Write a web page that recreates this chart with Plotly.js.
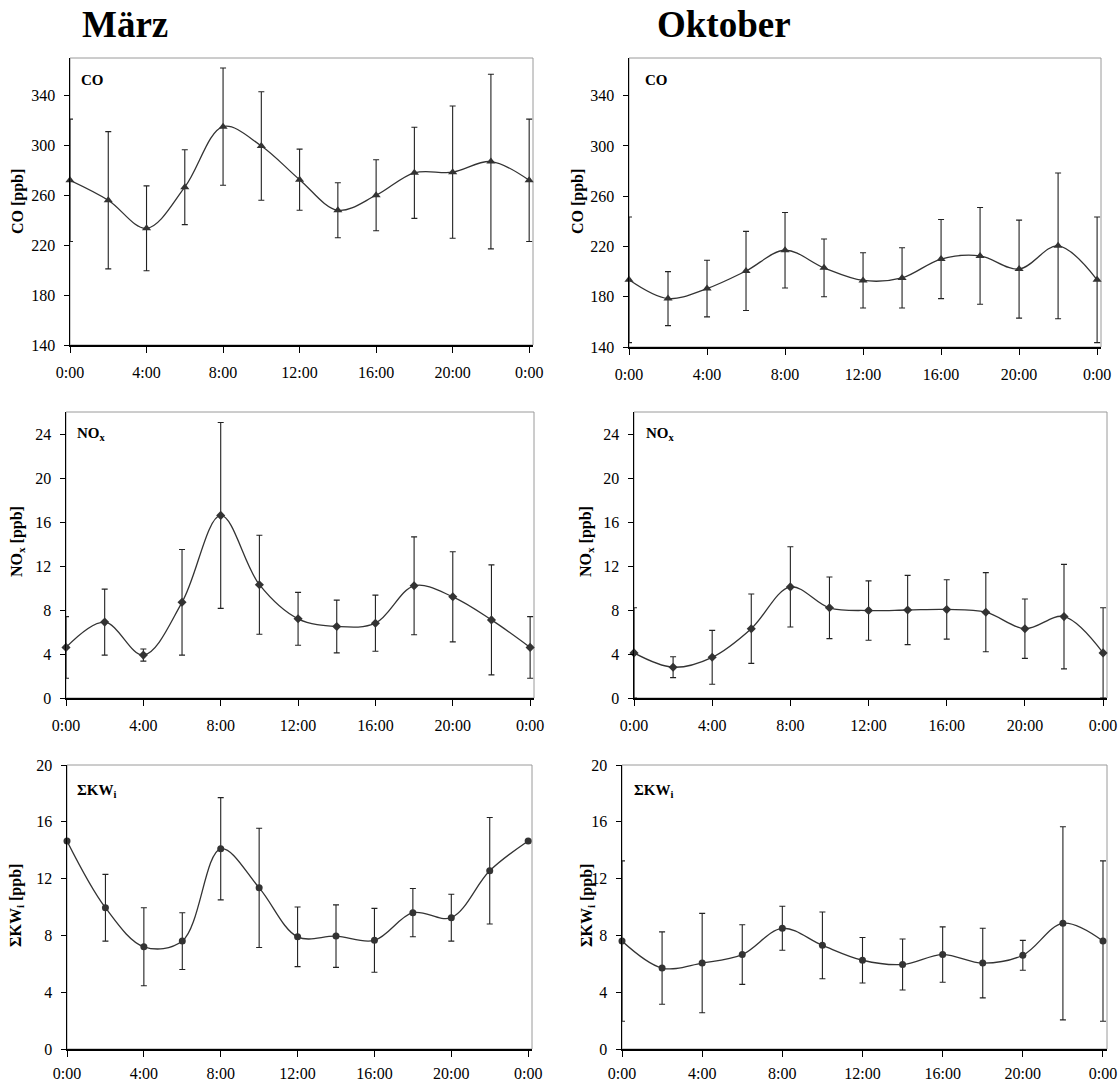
<!DOCTYPE html>
<html>
<head>
<meta charset="utf-8">
<script src="https://cdn.plot.ly/plotly-3.0.1.min.js"></script>
<style>
  html, body { margin: 0; padding: 0; background: #fff; }
  #chart { width: 1120px; height: 1086px; }
</style>
</head>
<body>
<div id="chart"></div>
<script>
// Tagesgänge (2-h-Mittel) mit Standardabweichung, März und Oktober
const hours = [0, 2, 4, 6, 8, 10, 12, 14, 16, 18, 20, 22, 24];
const tickVals = [0, 4, 8, 12, 16, 20, 24];
const tickText = ['0:00', '4:00', '8:00', '12:00', '16:00', '20:00', '0:00'];

// CO [ppb]
const coMar    = [272, 256, 233.5, 266.5, 315, 299.5, 272.5, 248, 260, 278, 278.5, 287, 272];
const coMarErr = [49, 55, 34, 30, 47, 43.5, 24.5, 22, 28.5, 36.5, 53, 70, 49];
const coOkt    = [193.5, 178.5, 186.5, 200.5, 217, 203, 193, 195, 210, 212.5, 202, 220.5, 193.5];
const coOktErr = [50, 21.5, 22.5, 31.5, 30, 23, 22, 24, 31.5, 38.5, 39, 58, 50];

// NOx [ppb]
const noxMar    = [4.6, 6.9, 3.9, 8.7, 16.6, 10.3, 7.2, 6.5, 6.8, 10.2, 9.2, 7.1, 4.6];
const noxMarErr = [2.8, 3.0, 0.55, 4.8, 8.45, 4.5, 2.4, 2.4, 2.55, 4.45, 4.1, 5.0, 2.8];
const noxOkt    = [4.1, 2.8, 3.7, 6.3, 10.1, 8.2, 7.95, 8.0, 8.05, 7.8, 6.3, 7.4, 4.1];
const noxOktErr = [4.1, 0.95, 2.45, 3.15, 3.65, 2.8, 2.7, 3.15, 2.7, 3.6, 2.7, 4.75, 4.1];

// Summe KW_i [ppb]
const kwMar    = [14.65, 9.95, 7.2, 7.6, 14.1, 11.35, 7.9, 7.95, 7.65, 9.6, 9.25, 12.55, 14.65];
const kwMarErr = [0, 2.35, 2.75, 2.0, 3.6, 4.2, 2.1, 2.2, 2.25, 1.7, 1.65, 3.75, 0];
const kwOkt    = [7.6, 5.7, 6.05, 6.65, 8.5, 7.3, 6.25, 5.95, 6.65, 6.05, 6.6, 8.85, 7.6];
const kwOktErr = [5.65, 2.55, 3.5, 2.1, 1.55, 2.35, 1.6, 1.8, 1.95, 2.45, 1.05, 6.8, 5.65];

const SERIF = 'Liberation Serif, Times New Roman, serif';
const W = 1120, H = 1086;
const px = v => v / W;
const py = v => 1 - v / H;

// Plot areas in pixels: [left, right, top, bottom]
const boxes = [
  [70, 533, 58, 345],   // März CO
  [629, 1101, 58, 347], // Oktober CO
  [66, 534, 412, 698],  // März NOx
  [634, 1107, 412, 698],// Oktober NOx
  [67, 532, 765, 1049], // März KW
  [622, 1107, 765, 1049]// Oktober KW
];

const panels = [
  { y: coMar,  err: coMarErr,  sym: 'triangle-up', size: 8, range: [140, 370], dtick: 40, tick0: 140 },
  { y: coOkt,  err: coOktErr,  sym: 'triangle-up', size: 8, range: [140, 370], dtick: 40, tick0: 140 },
  { y: noxMar, err: noxMarErr, sym: 'diamond',     size: 7, range: [0, 26],    dtick: 4,  tick0: 0 },
  { y: noxOkt, err: noxOktErr, sym: 'diamond',     size: 7, range: [0, 26],    dtick: 4,  tick0: 0 },
  { y: kwMar,  err: kwMarErr,  sym: 'circle',      size: 7, range: [0, 20],    dtick: 4,  tick0: 0 },
  { y: kwOkt,  err: kwOktErr,  sym: 'circle',      size: 7, range: [0, 20],    dtick: 4,  tick0: 0 }
];

const traces = [];
const layout = {
  width: W, height: H,
  margin: { l: 0, r: 0, t: 0, b: 0 },
  paper_bgcolor: '#fff', plot_bgcolor: '#fff',
  showlegend: false,
  font: { family: SERIF, color: '#000', size: 16 },
  shapes: [], annotations: []
};

panels.forEach((p, i) => {
  const n = i + 1;
  const xa = n === 1 ? 'x' : 'x' + n;
  const ya = n === 1 ? 'y' : 'y' + n;
  const b = boxes[i];
  traces.push({
    type: 'scatter', mode: 'lines+markers',
    x: hours, y: p.y, xaxis: xa, yaxis: ya,
    line: { color: '#333', width: 1.3, shape: 'spline', smoothing: 1 },
    marker: { symbol: p.sym, size: p.size, color: '#333' },
    error_y: { type: 'data', array: p.err, visible: true, color: '#222', thickness: 1.1, width: 3 },
    cliponaxis: false, hoverinfo: 'skip'
  });
  layout['xaxis' + (n === 1 ? '' : n)] = {
    domain: [px(b[0]), px(b[1])], anchor: ya,
    range: [0, 24.2], tickvals: tickVals, ticktext: tickText,
    ticks: 'outside', ticklen: 6, tickwidth: 1, tickcolor: '#000',
    showline: true, linecolor: '#000', linewidth: 1.5,
    showgrid: false, zeroline: false, fixedrange: true,
    ticklabelstandoff: i >= 4 ? 3 : 6,
    tickfont: { family: SERIF, size: 16, color: '#000' }
  };
  layout['yaxis' + (n === 1 ? '' : n)] = {
    domain: [py(b[3]), py(b[2])], anchor: xa,
    range: p.range, dtick: p.dtick, tick0: p.tick0,
    ticks: 'outside', ticklen: 5, tickwidth: 1, tickcolor: '#000',
    showline: true, linecolor: '#000', linewidth: 1.5,
    showgrid: false, zeroline: false, fixedrange: true,
    ticklabelstandoff: 5,
    tickfont: { family: SERIF, size: 16, color: '#000' }
  };
  // light grey frame on top and right of each plot area
  layout.shapes.push({
    type: 'rect', xref: xa + ' domain', yref: ya + ' domain',
    x0: 0, x1: 1, y0: 0, y1: 1, layer: 'below',
    line: { color: '#9a9a9a', width: 1 }
  });
});

// Spaltenüberschriften
const headers = [
  { text: 'März', x: 80 },
  { text: 'Oktober', x: 655 }
];
headers.forEach(h => layout.annotations.push({
  xref: 'paper', yref: 'paper', x: px(h.x), y: py(25),
  xanchor: 'left', yanchor: 'middle', showarrow: false,
  text: '<b>' + h.text + '</b>', font: { family: SERIF, size: 37, color: '#000' }
}));

// Stoffbezeichnungen in den Diagrammen
const tags = [
  { text: 'CO', x: 79, y: 80 },
  { text: 'CO', x: 643, y: 80 },
  { text: 'NO<sub>x</sub>', x: 75, y: 434 },
  { text: 'NO<sub>x</sub>', x: 644, y: 434 },
  { text: 'ΣKW<sub>i</sub>', x: 75, y: 791 },
  { text: 'ΣKW<sub>i</sub>', x: 632, y: 791 }
];
tags.forEach(t => layout.annotations.push({
  xref: 'paper', yref: 'paper', x: px(t.x), y: py(t.y),
  xanchor: 'left', yanchor: 'middle', showarrow: false,
  text: '<b>' + t.text + '</b>', font: { family: SERIF, size: 15, color: '#000' }
}));

// Achsentitel
const yTitles = [
  { text: 'CO [ppb]', x: 18, y: 202 },
  { text: 'CO [ppb]', x: 578, y: 202 },
  { text: 'NO<sub>x</sub> [ppb]', x: 18, y: 542 },
  { text: 'NO<sub>x</sub> [ppb]', x: 587, y: 542 },
  { text: 'ΣKW<sub>i</sub> [ppb]', x: 16, y: 906 },
  { text: 'ΣKW<sub>i</sub> [ppb]', x: 587, y: 906 }
];
yTitles.forEach(t => layout.annotations.push({
  xref: 'paper', yref: 'paper', x: px(t.x), y: py(t.y),
  xanchor: 'center', yanchor: 'middle', showarrow: false, textangle: -90,
  text: '<b>' + t.text + '</b>', font: { family: SERIF, size: 16, color: '#000' }
}));

Plotly.newPlot('chart', traces, layout, { staticPlot: true, displayModeBar: false });
</script>
</body>
</html>
